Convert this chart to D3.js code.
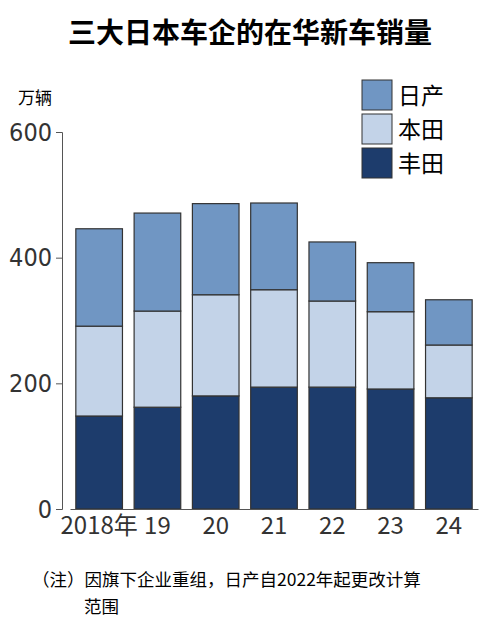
<!DOCTYPE html><html><head><meta charset="utf-8">
<script src="https://cdn.jsdelivr.net/npm/d3@7"></script>
<style>body{margin:0;background:#fff}</style></head><body>
<script>
const years=["2018年","19","20","21","22","23","24"];
const toyota=[148,162,180,194,194,191,177];
const honda=[143,153,161,155,137,123,84];
const nissan=[155,156,145,138,94,78,72];
const yTicks=[0,200,400,600];
const seriesNames=["丰田","本田","日产"];
const colors=["#1d3c6c","#c3d3e8","#7096c3"];
const svg=d3.select("body").append("svg").attr("width",500).attr("height",630);
const F="'Noto Sans CJK SC',sans-serif";
svg.append("text").attr("x",250).attr("y",43).attr("text-anchor","middle").attr("font-family",F).attr("font-weight","bold").attr("font-size",28).text("三大日本车企的在华新车销量");
const x=d3.scaleBand().domain(years).range([70,478]).paddingInner(0.2).paddingOuter(0.1);
const y=d3.scaleLinear().domain([0,600]).range([509,132]);
const stack=d3.stack().keys([0,1,2]).value((d,k)=>d[k]);
const rows=years.map((yr,i)=>Object.assign([toyota[i],honda[i],nissan[i]],{yr}));
const st=stack(rows);
st.forEach((s,k)=>{svg.append("g").selectAll("rect").data(s).join("rect")
 .attr("x",d=>x(d.data.yr)).attr("width",x.bandwidth()).attr("y",d=>y(d[1])).attr("height",d=>y(d[0])-y(d[1]))
 .attr("fill",colors[k]).attr("stroke","#333").attr("stroke-width",1.2);});
const ax=svg.append("g").attr("transform","translate(62,0)").call(d3.axisLeft(y).tickValues(yTicks).tickSize(6).tickPadding(4));
ax.selectAll("text").attr("font-family","'Liberation Sans Narrow','DejaVu Sans Condensed',sans-serif").attr("font-size",25).attr("fill","#333");
ax.select(".domain").attr("stroke","#555");ax.selectAll("line").attr("stroke","#555");
const xa=svg.append("g").attr("transform","translate(0,509)").call(d3.axisBottom(x).tickSize(0).tickPadding(8));
xa.select(".domain").attr("stroke","#555");
xa.selectAll("text").attr("font-family","'Liberation Sans Narrow','Noto Sans CJK SC',sans-serif").attr("font-size",24).attr("fill","#333");
svg.append("text").attr("x",18).attr("y",104).attr("font-family",F).attr("font-size",17).text("万辆");
const lg=svg.append("g");
[2,1,0].forEach((k,i)=>{const yy=80+i*34;
 lg.append("rect").attr("x",362).attr("y",yy).attr("width",30).attr("height",30).attr("fill",colors[k]).attr("stroke","#333");
 lg.append("text").attr("x",398).attr("y",yy+24).attr("font-family",F).attr("font-size",23).text(seriesNames[k]);});
svg.append("text").attr("x",32).attr("y",586).attr("font-family",F).attr("font-size",17.5).text("（注）因旗下企业重组，日产自2022年起更改计算");
svg.append("text").attr("x",84).attr("y",613).attr("font-family",F).attr("font-size",17.5).text("范围");
</script></body></html>
